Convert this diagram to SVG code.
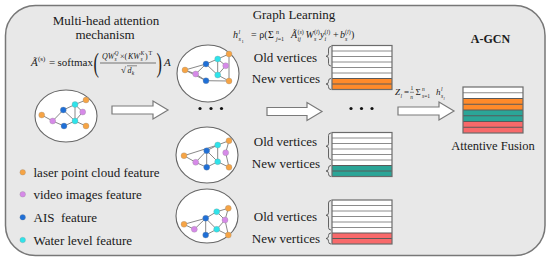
<svg xmlns="http://www.w3.org/2000/svg" width="550" height="263" viewBox="0 0 550 263">
<style>
.t{font-family:"Liberation Serif","Times New Roman",serif;fill:#1a1a1a}
.lbl{font-size:13px}
.it{font-style:italic}
.edge{stroke:#7a7a7a;stroke-width:0.9;fill:none}
.circ{fill:#fff;stroke:#666;stroke-width:1.1}
.o{fill:#f6a445}.p{fill:#d68ae8}.b{fill:#1f6fd6}.c{fill:#2fe3ea}
.nd{stroke:#8a8a8a;stroke-width:0.3}
.arrow{fill:#fff;stroke:#7a7a7a;stroke-width:1.2}
.brace{fill:none;stroke:#555;stroke-width:0.9}
.row{stroke:#8c8c8c;stroke-width:1}
.crow{stroke:#5a5a5a;stroke-width:1}
.box{fill:none;stroke:#6b6b6b;stroke-width:1.2}
.dot{fill:#111}
</style>
<rect id="frame" x="5.5" y="5.5" width="539.5" height="250" rx="30" ry="30" fill="#e8e8e8" stroke="#777" stroke-width="1.5"/>

<g id="title-attention">
<text class="t lbl" x="106" y="25" text-anchor="middle">Multi-head attention</text>
<text class="t lbl" x="105" y="39" text-anchor="middle">mechanism</text>
</g>

<g id="formula-attention" class="t">
<text x="31" y="65.5" font-size="11" class="it">Ã</text>
<text x="38" y="61" font-size="7">(s)</text>
<text x="49" y="65.5" font-size="11">=</text>
<text x="57.5" y="65.5" font-size="11">softmax</text>
<text transform="translate(93.5,72) scale(0.6,1)" font-size="27">(</text>
<text x="102" y="58.5" font-size="8" class="it">QW</text>
<text x="114.5" y="55" font-size="5.5" class="it">Q</text>
<text x="114.5" y="61" font-size="5.5" class="it">s</text>
<text x="120" y="58.5" font-size="8">×(</text>
<text x="128" y="58.5" font-size="8" class="it">KW</text>
<text x="140.5" y="55" font-size="5.5" class="it">K</text>
<text x="140.5" y="61" font-size="5.5" class="it">s</text>
<text x="145" y="58.5" font-size="8">)</text>
<text x="148.5" y="54.5" font-size="6">T</text>
<line x1="100" y1="63" x2="156" y2="63" stroke="#222" stroke-width="0.6"/>
<text x="121" y="73" font-size="9">√</text>
<line x1="127" y1="65.8" x2="137" y2="65.8" stroke="#222" stroke-width="0.5"/>
<text x="127.5" y="72.5" font-size="8" class="it">d</text>
<text x="131.8" y="74.5" font-size="5.5" class="it">k</text>
<text transform="translate(156.5,72) scale(0.6,1)" font-size="27">)</text>
<text x="164" y="65.5" font-size="11" class="it">A</text>
</g>

<g id="graph-input">
<ellipse class="circ" cx="66" cy="116" rx="31" ry="26"/>
<path class="edge" d="M41.7,115L52.7,121M52.7,121L63.3,110M52.7,121L64,126M63.3,110L75,104.5M63.3,110L75,121M64,126L75,121M75,104.5L75,121M75,104.5L82.7,112M75,104.5L86,100M82.7,112L75,121M75,121L86,126"/>
<circle class="nd o" cx="41.7" cy="115" r="3"/><circle class="nd p" cx="52.7" cy="121" r="3"/>
<circle class="nd b" cx="63.3" cy="110" r="3"/><circle class="nd b" cx="64" cy="126" r="3"/>
<circle class="nd c" cx="75" cy="104.5" r="3"/><circle class="nd p" cx="82.7" cy="112" r="3"/>
<circle class="nd c" cx="75" cy="121" r="3"/><circle class="nd o" cx="86" cy="100" r="3"/>
<circle class="nd o" cx="86" cy="126" r="3"/>
</g>

<g id="legend">
<circle class="nd o" cx="22.7" cy="172.3" r="2.8"/>
<text class="t lbl" x="33.5" y="176.8">laser point cloud feature</text>
<circle class="nd p" cx="22.7" cy="194.3" r="2.8"/>
<text class="t lbl" x="33.5" y="198.8">video images feature</text>
<circle class="nd b" cx="22.7" cy="217.3" r="2.8"/>
<text class="t lbl" x="33.5" y="221.8" xml:space="preserve">AIS  feature</text>
<circle class="nd c" cx="22.7" cy="240" r="2.8"/>
<text class="t lbl" x="33.5" y="244.5">Water level feature</text>
</g>

<g id="title-graph-learning">
<text class="t lbl" x="294" y="19" text-anchor="middle">Graph Learning</text>
</g>

<g id="formula-h" class="t">
<text x="233" y="38" font-size="10" class="it">h</text>
<text x="238.5" y="33.5" font-size="6" class="it">l</text>
<text x="238.5" y="41" font-size="6" class="it">s</text>
<text x="241.5" y="42.5" font-size="4.5">1</text>
<text x="251" y="38" font-size="10">= ρ(</text>
<text x="268" y="38" font-size="10">Σ</text>
<text x="276" y="33.5" font-size="6" class="it">n</text>
<text x="276" y="41" font-size="6"><tspan class="it">j</tspan>=1</text>
<text x="291" y="38" font-size="10" class="it">Ã</text>
<text x="297.5" y="33.5" font-size="6">(<tspan class="it">s</tspan>)</text>
<text x="297.5" y="41" font-size="6" class="it">ij</text>
<text x="305.5" y="38" font-size="10" class="it">W</text>
<text x="314" y="33.5" font-size="6">(<tspan class="it">l</tspan>)</text>
<text x="314" y="41" font-size="6" class="it">s</text>
<text x="320" y="38" font-size="10" class="it">y</text>
<text x="324.5" y="33.5" font-size="6">(<tspan class="it">l</tspan>)</text>
<text x="324.5" y="41" font-size="6" class="it">i</text>
<text x="333" y="38" font-size="10">+</text>
<text x="340" y="38" font-size="10" class="it">b</text>
<text x="345" y="33.5" font-size="6">(<tspan class="it">l</tspan>)</text>
<text x="345" y="41" font-size="6" class="it">s</text>
<text x="351" y="38" font-size="10">)</text>
</g>

<g id="graph-1">
<ellipse class="circ" cx="208" cy="73.5" rx="31" ry="28.5"/>
<path class="edge" d="M185,70L206,64M185,70L206,80.7M185,70L195.7,74M195.7,74L206,64M195.7,74L206,80.7M206,64L217.7,59M206,64L217.7,75M206,80.7L229,81M217.7,59L217.7,75M217.7,59L229,54M217.7,59L225.7,65.7M225.7,65.7L217.7,75M229,54L229,81M217.7,75L229,81"/>
<circle class="nd o" cx="185" cy="70" r="3"/><circle class="nd p" cx="195.7" cy="74" r="3"/>
<circle class="nd b" cx="206" cy="64" r="3"/><circle class="nd b" cx="206" cy="80.7" r="3"/>
<circle class="nd c" cx="217.7" cy="59" r="3"/><circle class="nd p" cx="225.7" cy="65.7" r="3"/>
<circle class="nd c" cx="217.7" cy="75" r="3"/><circle class="nd o" cx="229" cy="54" r="3"/>
<circle class="nd o" cx="229" cy="81" r="3"/>
</g>

<g id="graph-2">
<ellipse class="circ" cx="207" cy="155" rx="31" ry="28"/>
<path class="edge" d="M184,155.7L217.7,145M184,155.7L195.7,162.3M195.7,162.3L206.7,150.7M195.7,162.3L206.7,167.3M206.7,150.7L217.7,145M206.7,150.7L217.7,161.7M206.7,150.7L206.7,167.3M206.7,167.3L217.7,161.7M217.7,145L217.7,161.7M217.7,145L229,140.7M229,140.7L225.7,152.7M225.7,152.7L229,167.3M217.7,161.7L229,167.3"/>
<circle class="nd o" cx="184" cy="155.7" r="3"/><circle class="nd p" cx="195.7" cy="162.3" r="3"/>
<circle class="nd b" cx="206.7" cy="150.7" r="3"/><circle class="nd b" cx="206.7" cy="167.3" r="3"/>
<circle class="nd c" cx="217.7" cy="145" r="3"/><circle class="nd p" cx="225.7" cy="152.7" r="3"/>
<circle class="nd c" cx="217.7" cy="161.7" r="3"/><circle class="nd o" cx="229" cy="140.7" r="3"/>
<circle class="nd o" cx="229" cy="167.3" r="3"/>
</g>

<g id="graph-3">
<ellipse class="circ" cx="207" cy="216" rx="31" ry="27"/>
<path class="edge" d="M184,224.3L205.7,218.3M184,224.3L194.3,229.3M194.3,229.3L205.7,218.3M205.7,218.3L216.7,211.7M205.7,218.3L205.7,235M205.7,218.3L216.7,229.3M205.7,235L216.7,229.3M216.7,211.7L225,220M216.7,211.7L228.3,208.3M228.3,208.3L225,220M225,220L216.7,229.3M225,220L228.3,235M216.7,229.3L228.3,235"/>
<circle class="nd o" cx="184" cy="224.3" r="3"/><circle class="nd p" cx="194.3" cy="229.3" r="3"/>
<circle class="nd b" cx="205.7" cy="218.3" r="3"/><circle class="nd b" cx="205.7" cy="235" r="3"/>
<circle class="nd c" cx="216.7" cy="211.7" r="3"/><circle class="nd p" cx="225" cy="220" r="3"/>
<circle class="nd c" cx="216.7" cy="229.3" r="3"/><circle class="nd o" cx="228.3" cy="208.3" r="3"/>
<circle class="nd o" cx="228.3" cy="235" r="3"/>
</g>

<g id="dots-left">
<circle class="dot" cx="200" cy="108.5" r="1.6"/><circle class="dot" cx="211" cy="108.5" r="1.6"/><circle class="dot" cx="221.5" cy="108.5" r="1.6"/>
</g>

<g id="stack-1">
<text class="t lbl" x="317" y="62" text-anchor="end">Old vertices</text>
<text class="t lbl" x="320" y="83" text-anchor="end">New vertices</text>
<path class="brace" d="M331,46.5Q328.5,46.5 328.5,49V53.75Q328.5,56.25 326,56.25Q328.5,56.25 328.5,58.75V63.5Q328.5,66 331,66"/>
<path class="brace" d="M331,78.5Q328.5,78.5 328.5,81V81.5Q328.5,84 326,84Q328.5,84 328.5,86.5V87Q328.5,89.5 331,89.5"/>
<rect x="332" y="45.5" width="60" height="33" fill="#fff"/>
<rect x="332" y="78.5" width="60" height="11" fill="#ff8a2a"/>
<path class="row" d="M332,51H392M332,56.5H392M332,62H392M332,67.5H392M332,73H392"/>
<path class="crow" d="M332,78.5H392M332,84H392"/>
<rect class="box" x="332" y="45.5" width="60" height="44"/>
</g>

<g id="stack-2">
<text class="t lbl" x="317" y="146" text-anchor="end">Old vertices</text>
<text class="t lbl" x="320" y="168" text-anchor="end">New vertices</text>
<path class="brace" d="M331,133Q328.5,133 328.5,135.5V143.75Q328.5,146.25 326,146.25Q328.5,146.25 328.5,148.75V157Q328.5,159.5 331,159.5"/>
<path class="brace" d="M331,165.5Q328.5,165.5 328.5,168V168.5Q328.5,171 326,171Q328.5,171 328.5,173.5V174Q328.5,176.5 331,176.5"/>
<rect x="332" y="132.5" width="60" height="33" fill="#fff"/>
<rect x="332" y="165.5" width="60" height="11" fill="#2ba597"/>
<path class="row" d="M332,138H392M332,143.5H392M332,149H392M332,154.5H392M332,160H392"/>
<path class="crow" d="M332,165.5H392M332,171H392"/>
<rect class="box" x="332" y="132.5" width="60" height="44"/>
</g>

<g id="stack-3">
<text class="t lbl" x="317" y="221" text-anchor="end">Old vertices</text>
<text class="t lbl" x="320" y="242.5" text-anchor="end">New vertices</text>
<path class="brace" d="M331,200.5Q328.5,200.5 328.5,203V212.75Q328.5,215.25 326,215.25Q328.5,215.25 328.5,217.75V227.5Q328.5,230 331,230"/>
<path class="brace" d="M331,233Q328.5,233 328.5,235.5V236Q328.5,238.5 326,238.5Q328.5,238.5 328.5,241V241.5Q328.5,244 331,244"/>
<rect x="332" y="200" width="60" height="33" fill="#fff"/>
<rect x="332" y="233" width="60" height="11" fill="#f8696a"/>
<path class="row" d="M332,205.5H392M332,211H392M332,216.5H392M332,222H392M332,227.5H392"/>
<path class="crow" d="M332,233H392M332,238.5H392"/>
<rect class="box" x="332" y="200" width="60" height="44"/>
</g>

<g id="dots-right">
<circle class="dot" cx="351" cy="108.5" r="1.6"/><circle class="dot" cx="361.5" cy="108.5" r="1.6"/><circle class="dot" cx="372" cy="108.5" r="1.6"/>
</g>

<g id="formula-z" class="t">
<text x="395" y="95" font-size="9" class="it">Z</text>
<text x="400.5" y="97.5" font-size="5.5" class="it">l</text>
<text x="404" y="95" font-size="9">=</text>
<text x="410.5" y="90" font-size="5.5">1</text>
<line x1="410" y1="92.3" x2="414" y2="92.3" stroke="#222" stroke-width="0.5"/>
<text x="410.3" y="98.5" font-size="5.5" class="it">n</text>
<text x="415.5" y="95" font-size="9">Σ</text>
<text x="422" y="91" font-size="5.5" class="it">n</text>
<text x="422" y="98" font-size="5.5"><tspan class="it">s</tspan>=1</text>
<text x="436" y="95" font-size="9" class="it">h</text>
<text x="441" y="90.5" font-size="5.5" class="it">l</text>
<text x="441" y="98" font-size="5.5" class="it">s</text>
<text x="443.5" y="99.5" font-size="4" class="it">l</text>
</g>

<g id="title-agcn">
<text class="t" x="490.5" y="43" font-size="12" font-weight="bold" text-anchor="middle">A-GCN</text>
</g>

<g id="stack-fusion">
<rect x="463" y="87" width="60" height="11.5" fill="#fff"/>
<rect x="463" y="98.5" width="60" height="11.5" fill="#ff8a2a"/>
<rect x="463" y="110" width="60" height="11.5" fill="#2ba597"/>
<rect x="463" y="121.5" width="60" height="11.5" fill="#f8696a"/>
<path class="row" d="M463,92.75H523"/>
<path class="crow" d="M463,98.5H523M463,104.25H523M463,110H523M463,115.75H523M463,121.5H523M463,127.25H523"/>
<rect class="box" x="463" y="87" width="60" height="46"/>
<text class="t" x="493" y="150" font-size="12.5" text-anchor="middle">Attentive Fusion</text>
</g>

<g id="connectors">
<path class="arrow" d="M112,106H153V101L168,110L153,119V114H112Z"/>
<path class="arrow" d="M267,107.5H307V102.5L322,111.5L307,120.5V115.5H267Z"/>
<path class="arrow" d="M398,107H439V102L454,111L439,120V115H398Z"/>
</g>
</svg>
